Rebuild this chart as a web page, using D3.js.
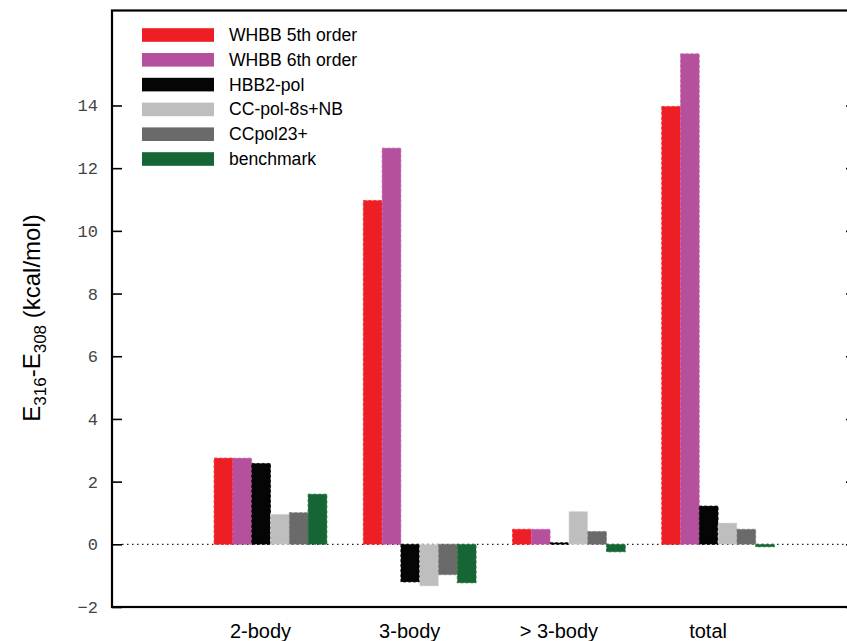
<!DOCTYPE html>
<html>
<head>
<meta charset="utf-8">
<script src="https://cdn.jsdelivr.net/npm/d3@7"></script>
<style>
  html, body { margin: 0; padding: 0; background: #fff; }
  svg { display: block; }
</style>
</head>
<body>
<script>
// ---- data ----
const categories = ["2-body", "3-body", "> 3-body", "total"];
const seriesNames = ["WHBB 5th order", "WHBB 6th order", "HBB2-pol", "CC-pol-8s+NB", "CCpol23+", "benchmark"];
const seriesColors = ["#ED1F24", "#B5509C", "#050505", "#BEBEBE", "#6A6A6A", "#166534"];
const whbb5 = [2.75, 10.97, 0.48, 13.97];
const whbb6 = [2.75, 12.64, 0.48, 15.65];
const hbb2pol = [2.58, -1.20, 0.05, 1.22];
const ccpol8s = [0.96, -1.33, 1.05, 0.68];
const ccpol23 = [1.01, -0.97, 0.41, 0.48];
const benchmark = [1.60, -1.23, -0.24, -0.08];
const yTickValues = [-2, 0, 2, 4, 6, 8, 10, 12, 14];

const seriesValues = [whbb5, whbb6, hbb2pol, ccpol8s, ccpol23, benchmark];

// ---- layout ----
const W = 847, H = 641;
const mLeft = 112, mRight = 856, mTop = 10.5, mBottom = 607;

const svg = d3.select("body").append("svg").attr("width", W).attr("height", H);

const y = d3.scaleLinear().domain([-2, 17.03]).range([mBottom, mTop]);
const xc = d3.scalePoint().domain(categories).range([270.5, 718.1]);
const xs = d3.scaleBand().domain(seriesNames).range([-56.4, 56.4]).padding(0);

// zero line
svg.append("line")
  .attr("x1", mLeft + 10).attr("x2", mRight)
  .attr("y1", y(0)).attr("y2", y(0))
  .attr("stroke", "#222").attr("stroke-width", 1.2)
  .attr("stroke-dasharray", "1.5,3.5");

// bars
const rows = [];
seriesNames.forEach((s, si) => {
  categories.forEach((c, ci) => rows.push({ s, si, c, v: seriesValues[si][ci] }));
});
svg.append("g").selectAll("rect").data(rows).join("rect")
  .attr("x", d => xc(d.c) + xs(d.s))
  .attr("width", xs.bandwidth())
  .attr("y", d => y(Math.max(0, d.v)))
  .attr("height", d => Math.abs(y(d.v) - y(0)))
  .attr("fill", d => seriesColors[d.si])
  .attr("stroke", d => d3.color(seriesColors[d.si]).brighter(0.5))
  .attr("stroke-width", 0.8)
  .attr("stroke-dasharray", "3,2");

// axes
const yAxisL = d3.axisLeft(y).tickValues(yTickValues).tickSize(-10).tickPadding(14)
  .tickFormat(d => d < 0 ? "\u2212" + Math.abs(d) : String(d));
const gL = svg.append("g").attr("transform", `translate(${mLeft},0)`).call(yAxisL);
gL.select(".domain").remove();
gL.selectAll(".tick line").attr("stroke", "#000").attr("stroke-width", 1.6);
gL.selectAll(".tick text")
  .attr("font-family", "'Liberation Mono', 'DejaVu Sans Mono', monospace")
  .attr("font-size", 17).attr("fill", "#444");

const yAxisR = d3.axisRight(y).tickValues(yTickValues).tickSize(-10).tickFormat("");
const gR = svg.append("g").attr("transform", `translate(${mRight},0)`).call(yAxisR);
gR.select(".domain").remove();
gR.selectAll(".tick line").attr("stroke", "#000").attr("stroke-width", 1.6);

// frame
svg.append("rect")
  .attr("x", mLeft).attr("y", mTop)
  .attr("width", mRight - mLeft).attr("height", mBottom - mTop)
  .attr("fill", "none").attr("stroke", "#000").attr("stroke-width", 2.2);

// x labels
svg.append("g").selectAll("text").data(categories).join("text")
  .attr("x", d => xc(d) - 10)
  .attr("y", 638)
  .attr("text-anchor", "middle")
  .attr("font-family", "'Liberation Sans', Arial, sans-serif")
  .attr("font-size", 20)
  .attr("fill", "#000")
  .text(d => d);

// y label
const yl = svg.append("text")
  .attr("transform", `translate(40,${318}) rotate(-90)`)
  .attr("text-anchor", "middle")
  .attr("font-family", "'Liberation Sans', Arial, sans-serif")
  .attr("font-size", 24)
  .attr("fill", "#000");
yl.append("tspan").text("E");
yl.append("tspan").attr("dy", 6).attr("font-size", 17).text("316");
yl.append("tspan").attr("dy", -6).text("-E");
yl.append("tspan").attr("dy", 6).attr("font-size", 17).text("308");
yl.append("tspan").attr("dy", -6).text(" (kcal/mol)");

// legend
const lg = svg.append("g");
const legendRows = lg.selectAll("g").data(seriesNames).join("g")
  .attr("transform", (d, i) => `translate(142,${35 + i * 24.8})`);
legendRows.append("rect")
  .attr("x", 0).attr("y", -6.8).attr("width", 72).attr("height", 13.6)
  .attr("fill", (d, i) => seriesColors[i]);
legendRows.append("text")
  .attr("x", 87).attr("y", 6)
  .attr("font-family", "'Liberation Sans', Arial, sans-serif")
  .attr("font-size", 17.6)
  .attr("fill", "#000")
  .text(d => d);
</script>
</body>
</html>
